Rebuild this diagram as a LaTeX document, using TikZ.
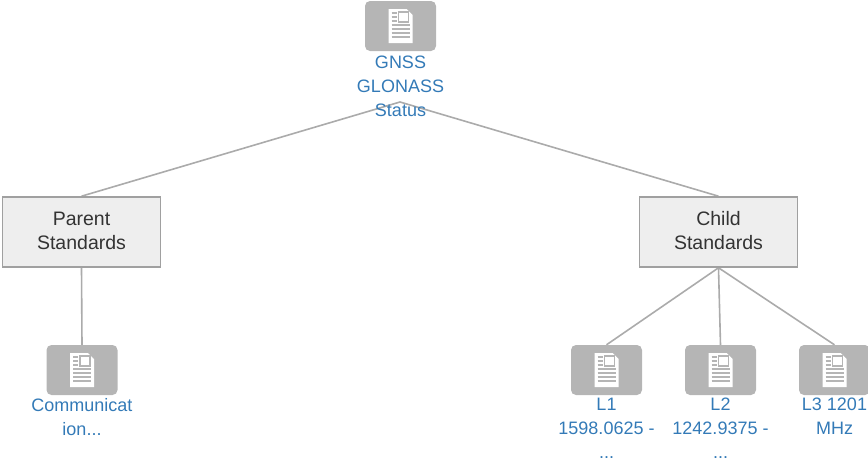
\documentclass[tikz,border=0pt]{standalone}
\usepackage{fontspec}
\setmainfont{Liberation Sans}
\usetikzlibrary{backgrounds}
\definecolor{icongray}{HTML}{B5B5B5}
\definecolor{linkblue}{HTML}{337AB7}
\definecolor{boxfill}{HTML}{EEEEEE}
\definecolor{boxline}{HTML}{A0A0A0}
\definecolor{edgegray}{HTML}{ABABAB}
\definecolor{boxtext}{HTML}{333333}
\tikzset{
  docicon/.style={draw=none, fill=icongray, rounded corners=5pt, minimum width=71pt, minimum height=50pt, inner sep=0pt},
  doclabel/.style={anchor=north, align=center, inner sep=0pt, text=linkblue, font=\fontsize{18}{24}\selectfont},
  stdbox/.style={draw=boxline, line width=1.6pt, fill=boxfill, minimum width=158pt, minimum height=70pt, inner sep=0pt},
  boxlabel/.style={align=center, text=boxtext, font=\fontsize{19.5}{24}\selectfont, inner sep=0pt},
  edge/.style={draw=edgegray, line width=1.6pt},
  page/.pic={
    \fill[white] (-12,-17) -- (6,-17) -- (12,-11) -- (12,17) -- (-12,17) -- cycle;
    \draw[icongray, line width=1.3pt] (-2,-14) rectangle (8,-4);
    \foreach \yy in {-13,-9,-5} \draw[icongray, line width=1.3pt] (-9,\yy) -- (-4,\yy);
    \foreach \yy in {-1,3,7,11} \draw[icongray, line width=1.3pt] (-9,\yy) -- (9,\yy);
  }
}
\begin{document}
\begin{tikzpicture}[x=1pt,y=-1pt]
\useasboundingbox (0,0) rectangle (868,466);
% nodes
\node[docicon] (root) at (400.5,26) {};
\node[stdbox] (parent) at (81.5,232) {};
\node[stdbox] (child) at (718.5,232) {};
\node[boxlabel] (parenttext) at (81.5,230.5) {Parent\\Standards};
\node[boxlabel] (childtext) at (718.5,230.5) {Child\\Standards};
\node[docicon] (comm) at (82,370) {};
\node[docicon] (l1) at (606.5,370) {};
\node[docicon] (l2) at (720.5,370) {};
\node[docicon] (l3) at (834.5,370) {};
\coordinate (hub) at (400,102);
% edges
\begin{scope}[on background layer]
\path[edge] (hub) -- (parent.north);
\path[edge] (hub) -- (child.north);
\path[edge] (parent.south) -- (comm.north);
\path[edge] (child.south) -- (l1.north);
\path[edge] (child.south) -- (l2.north);
\path[edge] (child.south) -- (l3.north);
\end{scope}
% icons glyphs
\foreach \n in {root,comm,l1,l2,l3} \pic at (\n) {page};
% labels
\node[doclabel] (rootlab) at ([yshift=-5pt]root.south) {GNSS\\GLONASS\\Status};
\node[doclabel] (commlab) at ([yshift=-3pt]comm.south) {Communicat\\ion...};
\node[doclabel] (l1lab) at ([yshift=-3pt]l1.south) {L1\\1598.0625 -\\...};
\node[doclabel] (l2lab) at ([yshift=-3pt]l2.south) {L2\\1242.9375 -\\...};
\node[doclabel] (l3lab) at ([yshift=-3pt]l3.south) {L3 1201\\MHz};
\end{tikzpicture}
\end{document}
